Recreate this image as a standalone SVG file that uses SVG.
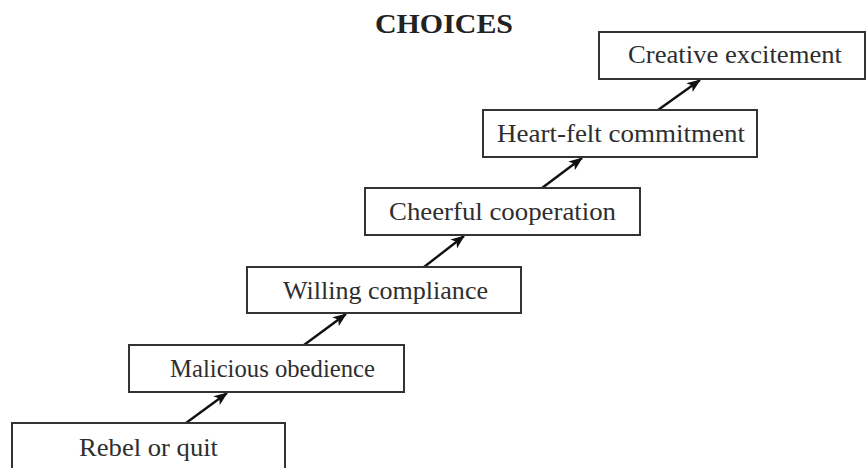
<svg xmlns="http://www.w3.org/2000/svg" width="866" height="468" viewBox="0 0 866 468">
<defs>
<style>
.box{fill:#fff;stroke:#333;stroke-width:2}
.lbl{font-family:"Liberation Serif","DejaVu Serif",serif;font-size:25px;fill:#2e2e2e;text-anchor:middle}
.title{font-family:"Liberation Serif","DejaVu Serif",serif;font-size:27px;font-weight:bold;fill:#222;text-anchor:middle}
.arr{stroke:#111;stroke-width:2.4;fill:none;marker-end:url(#ah)}
</style>
<marker id="ah" viewBox="0 0 14 11" refX="13" refY="5.5" markerWidth="14" markerHeight="11" markerUnits="userSpaceOnUse" orient="auto">
<path d="M0,0 L14,5.5 L0,11 L3.5,5.5 Z" fill="#111"/>
</marker>
</defs>
<rect width="866" height="468" fill="#fff"/>
<text class="title" x="444" y="33" textLength="138" lengthAdjust="spacingAndGlyphs">CHOICES</text>
<g id="connectors">
<line class="arr" x1="186" y1="423" x2="227" y2="393"/>
<line class="arr" x1="304" y1="345" x2="346" y2="314"/>
<line class="arr" x1="424" y1="267" x2="464" y2="236"/>
<line class="arr" x1="542" y1="188" x2="582" y2="158"/>
<line class="arr" x1="658" y1="110" x2="700" y2="80"/>
</g>
<g id="n1"><rect class="box" x="12" y="423" width="273" height="47"/><text class="lbl" x="148.5" y="456" textLength="139" lengthAdjust="spacingAndGlyphs">Rebel or quit</text></g>
<g id="n2"><rect class="box" x="129" y="345" width="275" height="47"/><text class="lbl" x="272.5" y="377" textLength="205" lengthAdjust="spacingAndGlyphs">Malicious obedience</text></g>
<g id="n3"><rect class="box" x="247" y="267" width="274" height="46"/><text class="lbl" x="385.5" y="299" textLength="205" lengthAdjust="spacingAndGlyphs">Willing compliance</text></g>
<g id="n4"><rect class="box" x="365" y="188" width="275" height="47"/><text class="lbl" x="502.5" y="220" textLength="227" lengthAdjust="spacingAndGlyphs">Cheerful cooperation</text></g>
<g id="n5"><rect class="box" x="483" y="110" width="274" height="47"/><text class="lbl" x="621" y="142" textLength="248" lengthAdjust="spacingAndGlyphs">Heart-felt commitment</text></g>
<g id="n6"><rect class="box" x="599" y="32" width="266" height="47"/><text class="lbl" x="735" y="63" textLength="214" lengthAdjust="spacingAndGlyphs">Creative excitement</text></g>
</svg>
